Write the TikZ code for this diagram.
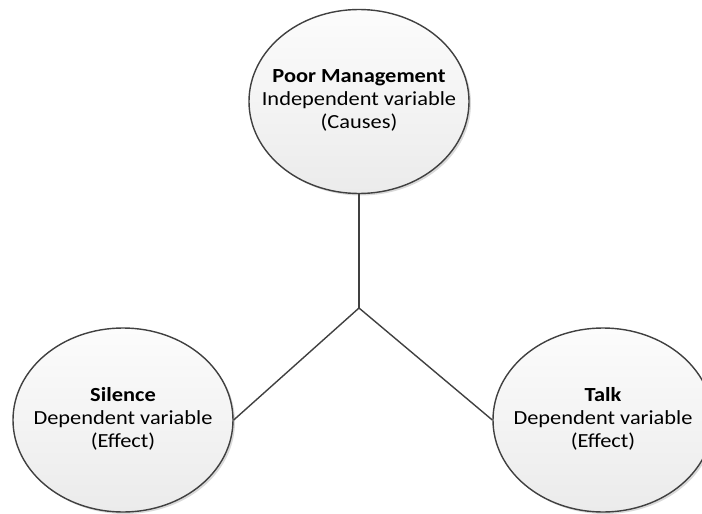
\documentclass[tikz,border=0pt]{standalone}
\usepackage{fontspec}
\setmainfont[FakeStretch=1.12]{Carlito}
\usetikzlibrary{shapes.geometric,shadows}
\definecolor{edge}{HTML}{404040}
\definecolor{fillTop}{HTML}{FCFCFC}
\definecolor{fillBot}{HTML}{EBEBEB}
\tikzset{
  bubble/.style={ellipse, draw=edge, line width=1.4pt, top color=fillTop, bottom color=fillBot,
    minimum width=220pt, minimum height=184pt, inner sep=0pt,
    drop shadow={shadow xshift=2pt, shadow yshift=-2pt, opacity=0.15, fill=black}},
  caption/.style={align=center, font=\fontsize{20}{23}\selectfont, text=black},
  link/.style={draw=edge, line width=1.4pt}
}
\begin{document}
\begin{tikzpicture}[x=1pt, y=-1pt]
  \useasboundingbox (0,0) rectangle (702,514);
  \clip (0,0) rectangle (702,514);
  % the three variables
  \node[bubble] (cause) at (359,101.5) {};
  \node[bubble] (silence) at (123,420) {};
  \node[bubble] (talk) at (603,420) {};
  \node[caption] (causeText) at ([yshift=1pt]cause.center) {\textbf{Poor Management}\\Independent variable\\(Causes)};
  \node[caption] (silenceText) at ([yshift=1pt]silence.center) {\textbf{Silence}\\Dependent variable\\(Effect)};
  \node[caption] (talkText) at ([yshift=1pt]talk.center) {\textbf{Talk}\\Dependent variable\\(Effect)};
  % branching connector
  \coordinate (fork) at (359,308);
  \draw[link] (cause.south) -- (fork);
  \draw[link] (fork) -- (silence.east);
  \draw[link] (fork) -- (talk.west);
\end{tikzpicture}
\end{document}
